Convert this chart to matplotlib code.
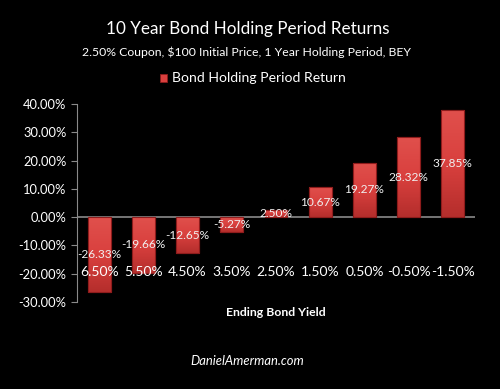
import matplotlib
matplotlib.use("Agg")
import matplotlib.pyplot as plt
import numpy as np
from matplotlib.patches import Rectangle
from matplotlib.colors import LinearSegmentedColormap

# Chart data
yields = ["6.50%", "5.50%", "4.50%", "3.50%", "2.50%", "1.50%", "0.50%", "-0.50%", "-1.50%"]
returns = [-26.33, -19.66, -12.65, -5.27, 2.50, 10.67, 19.27, 28.32, 37.85]
yticks = [-30, -20, -10, 0, 10, 20, 30, 40]

plt.rcParams['font.family'] = ['Lato', 'DejaVu Sans']

BG = 'black'
FG = 'white'
BAR = '#d9403e'
EDGE = '#8e1c1c'

fig = plt.figure(figsize=(5.0, 3.89), dpi=100, facecolor=BG)
ax = fig.add_axes([0.154, 0.2237, 0.796, 0.5089], facecolor=BG)

x = list(range(len(yields)))
bars = ax.bar(x, returns, width=0.52, color=BAR, edgecolor=EDGE, linewidth=0.8, zorder=2)

# soft vertical shading inside each bar (lighter on top, darker below)
shade = LinearSegmentedColormap.from_list('shade', ['#b52e2c', '#d9403e', '#e0504c'])
grad = np.linspace(0, 1, 64).reshape(-1, 1)
for b in bars:
    x0, y0 = b.get_x(), b.get_y()
    w, h = b.get_width(), b.get_height()
    lo, hi = min(y0, y0 + h), max(y0, y0 + h)
    im = ax.imshow(grad, cmap=shade, aspect='auto', origin='lower',
                   extent=(x0, x0 + w, lo, hi), zorder=2.1)
    im.set_clip_path(b)
    ax.add_patch(Rectangle((x0, lo), w, hi - lo, fill=False, edgecolor=EDGE,
                           linewidth=0.8, zorder=2.2))

# data labels at the middle of each bar
for xi, v in zip(x, returns):
    ax.text(xi, v / 2, f"{v:.2f}%", ha='center', va='center', color='#f0f0f0',
            fontsize=8.6, zorder=3)

# category labels sit inside the plot, below the zero line
for xi, lab in zip(x, yields):
    ax.text(xi, -19.5, lab, ha='center', va='center', color=FG, fontsize=10, zorder=3)

ax.set_xlim(-0.5, len(yields) - 0.5)
ax.set_ylim(-30, 40)
ax.set_yticks(yticks)
ax.set_yticklabels([f"{t:.2f}%" for t in yticks], color=FG, fontsize=9.3)
ax.set_xticks([])
ax.axhline(0, color='#8a8a8a', linewidth=1.2, zorder=1)

for s in ['top', 'right', 'bottom']:
    ax.spines[s].set_visible(False)
ax.spines['left'].set_color('#8a8a8a')
ax.tick_params(axis='y', colors='#8a8a8a', length=4, labelcolor=FG)

fig.text(0.495, 1 - 29 / 389, "10 Year Bond Holding Period Returns", ha='center', va='center',
         color=FG, fontsize=12.3)
fig.text(0.493, 1 - 52 / 389, "2.50% Coupon, $100 Initial Price, 1 Year Holding Period, BEY",
         ha='center', va='center', color=FG, fontsize=8.8)

# legend
fig.patches.append(Rectangle((160 / 500, 1 - 82 / 389), 7 / 500, 8 / 389,
                             transform=fig.transFigure, facecolor=BAR, edgecolor=EDGE,
                             linewidth=0.6))
fig.text(172 / 500, 1 - 78 / 389, "Bond Holding Period Return", ha='left', va='center',
         color=FG, fontsize=10.1)

fig.text(276 / 500, 1 - 312 / 389, "Ending Bond Yield", ha='center', va='center',
         color=FG, fontsize=8.8, fontweight='bold')
fig.text(247 / 500, 1 - 361 / 389, "DanielAmerman.com", ha='center', va='center',
         color=FG, fontsize=9.4, style='italic')

fig.savefig("out.png", dpi=100, facecolor=BG)
